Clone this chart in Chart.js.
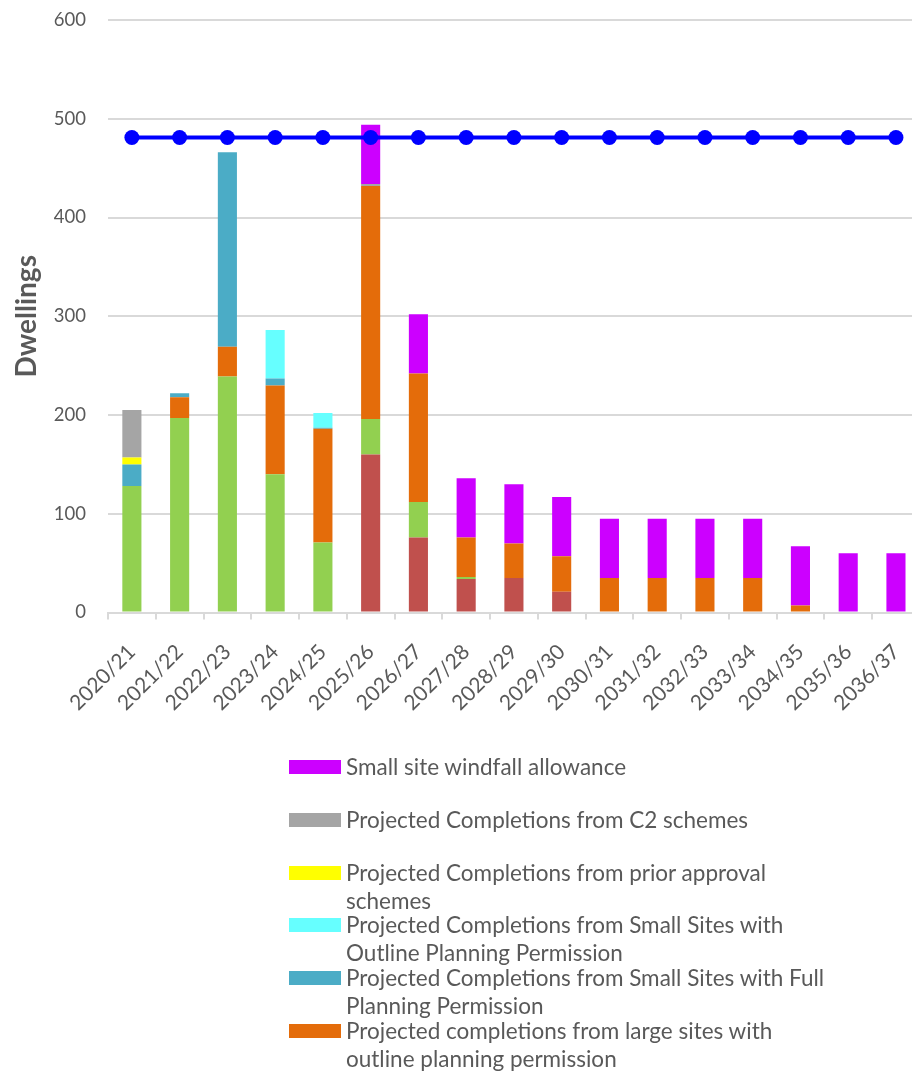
<!DOCTYPE html>
<html>
<head>
<meta charset="utf-8">
<script src="https://cdn.jsdelivr.net/npm/chart.js@4"></script>
<style>
  html, body { margin: 0; padding: 0; background: #fff; overflow: hidden; width: 912px; height: 1075px; }
  #wrap { position: absolute; left: 0; top: 0; width: 934px; height: 720px; }
  #legend { position: absolute; left: 0; top: 0; width: 912px; height: 1075px; pointer-events: none; font-family: Lato, sans-serif; color: #595959; }
  .item { position: absolute; left: 289px; }
  .box { position: absolute; left: 0; width: 52px; height: 14px; }
  .txt { position: absolute; left: 57px; font-size: 22.5px; line-height: 28px; white-space: pre; }
</style>
</head>
<body>
<div id="wrap"><canvas id="chart" width="934" height="720"></canvas></div>
<div id="legend"></div>
<script>
// categories
const years = ['2020/21', '2021/22', '2022/23', '2023/24', '2024/25', '2025/26', '2026/27', '2027/28', '2028/29',
  '2029/30', '2030/31', '2031/32', '2032/33', '2033/34', '2034/35', '2035/36', '2036/37'];

// series, stacked bottom to top
const allocated      = [0, 0, 0, 0, 0, 160, 76, 34, 35, 21, 0, 0, 0, 0, 0, 0, 0];
const largeFull      = [128, 197, 239, 140, 71, 36, 36, 2, 0, 0, 0, 0, 0, 0, 0, 0, 0];
const largeOutline   = [0, 21, 30, 90, 115, 236, 130, 40, 35, 36, 35, 35, 35, 35, 7, 0, 0];
const smallFull      = [22, 4, 197, 7, 1, 0, 0, 0, 0, 0, 0, 0, 0, 0, 0, 0, 0];
const smallOutline   = [0, 0, 0, 49, 15, 0, 0, 0, 0, 0, 0, 0, 0, 0, 0, 0, 0];
const priorApproval  = [7, 0, 0, 0, 0, 0, 0, 0, 0, 0, 0, 0, 0, 0, 0, 0, 0];
const c2Schemes      = [48, 0, 0, 0, 0, 2, 0, 0, 0, 0, 0, 0, 0, 0, 0, 0, 0];
const windfall       = [0, 0, 0, 0, 0, 60, 60, 60, 60, 60, 60, 60, 60, 60, 60, 60, 60];
const requirement    = [481, 481, 481, 481, 481, 481, 481, 481, 481, 481, 481, 481, 481, 481, 481, 481, 481];

const yTicks = [0, 100, 200, 300, 400, 500, 600];

const bars = [
  { label: 'Projected completions from allocated sites', data: allocated, color: '#C0504D' },
  { label: 'Projected completions from large sites with\nfull planning permission', data: largeFull, color: '#92D050' },
  { label: 'Projected completions from large sites with\noutline planning permission', data: largeOutline, color: '#E46C0A' },
  { label: 'Projected Completions from Small Sites with Full\nPlanning Permission', data: smallFull, color: '#4BACC6' },
  { label: 'Projected Completions from Small Sites with\nOutline Planning Permission', data: smallOutline, color: '#66FFFF' },
  { label: 'Projected Completions from prior approval\nschemes', data: priorApproval, color: '#FFFF00' },
  { label: 'Projected Completions from C2 schemes', data: c2Schemes, color: '#A5A5A5' },
  { label: 'Small site windfall allowance', data: windfall, color: '#CC00FF' }
];

const datasets = bars.map(b => ({
  type: 'bar',
  label: b.label,
  data: b.data,
  backgroundColor: b.color,
  borderWidth: 0,
  stack: 'supply',
  barPercentage: 0.4,
  categoryPercentage: 1,
  order: 2
}));
datasets.push({
  type: 'line',
  label: 'Annual housing requirement',
  data: requirement,
  borderColor: '#0000FF',
  backgroundColor: '#0000FF',
  borderWidth: 4,
  pointRadius: 7.5,
  pointBackgroundColor: '#0000FF',
  pointBorderWidth: 0,
  stack: 'req',
  order: 0
});

new Chart(document.getElementById('chart'), {
  data: { labels: years, datasets },
  options: {
    responsive: false,
    devicePixelRatio: 1,
    animation: false,
    layout: { padding: { top: 20, left: 0, right: 0, bottom: 0 } },
    plugins: { legend: { display: false }, tooltip: { enabled: false } },
    scales: {
      x: {
        stacked: true,
        grid: { drawOnChartArea: false, drawTicks: true, tickLength: 7, color: '#D9D9D9', lineWidth: 2, offset: true },
        border: { color: '#D9D9D9', width: 2 },
        ticks: { color: '#595959', font: { family: 'Lato', size: 21 }, minRotation: 45, maxRotation: 45, padding: 20 },
        afterFit: s => { s.height = 107.5; }
      },
      y: {
        stacked: true,
        min: 0,
        max: 600,
        afterBuildTicks: s => { s.ticks = yTicks.map(v => ({ value: v })); },
        grid: { color: '#D9D9D9', lineWidth: 2, drawTicks: true, tickLength: 20, tickColor: 'rgba(0,0,0,0)' },
        border: { display: false },
        ticks: { color: '#595959', font: { family: 'Lato', size: 18.5 }, padding: 2 },
        title: { display: true, text: 'Dwellings', color: '#595959', font: { family: 'Lato', size: 28, weight: 'bold' }, padding: { top: 10, bottom: 0 } },
        afterFit: s => { s.width = 108; }
      }
    }
  }
});

// legend, listed top to bottom like the original
const legend = document.getElementById('legend');
const entries = bars.slice().reverse().map(b => ({ label: b.label, color: b.color }));
entries.push({ label: 'Annual housing requirement', color: '#0000FF' });
entries.forEach((e, i) => {
  const cy = 767 + i * 52.8;
  const item = document.createElement('div');
  item.className = 'item';
  item.style.top = (cy - 14) + 'px';
  const box = document.createElement('div');
  box.className = 'box';
  box.style.top = '7px';
  box.style.background = e.color;
  const txt = document.createElement('div');
  txt.className = 'txt';
  txt.style.top = '0px';
  txt.textContent = e.label;
  item.appendChild(box);
  item.appendChild(txt);
  legend.appendChild(item);
});
</script>
</body>
</html>
